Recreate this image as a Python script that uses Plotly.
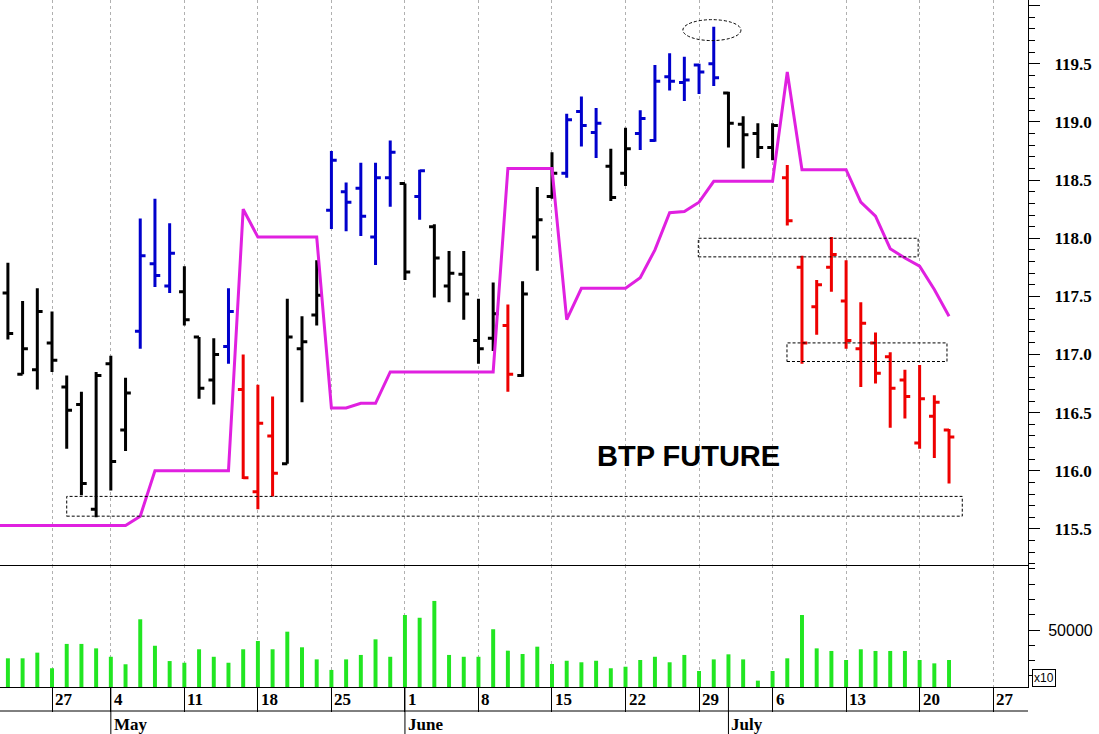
import pandas as pd
import plotly.graph_objects as go

# ---------------- calendar (trading days, 1 May closed) ----------------
calendar = pd.bdate_range("2009-04-21", "2009-07-31")
calendar = calendar[calendar != pd.Timestamp("2009-05-01")]
first_bar = 1                          # OHLC / volume start 22 Apr 2009
n_bars = 65                            # 22 Apr .. 22 Jul 2009

# ---------------- data ----------------
opens = [117.53, 116.83, 116.87, 117.10, 116.72, 116.57, 115.67, 116.92, 116.35,
         117.20, 117.78, 117.59, 117.54, 117.15, 116.78, 117.07, 116.70, 115.82,
         116.30, 116.06, 117.05, 117.34, 118.24, 118.40, 118.43, 118.01, 118.52,
         118.47, 118.36, 118.10, 117.59, 117.69, 117.12, 117.14, 117.25, 116.82,
         118.01, 118.36, 118.56, 119.09, 118.91, 118.62, 118.56, 118.90, 118.84,
         119.39, 119.34, 119.49, 119.50, 119.25, 118.98, 118.90, 118.78, 118.52,
         117.75, 117.41, 117.75, 117.46, 117.05, 117.10, 116.98, 116.78, 116.24,
         116.47, 116.35]
highs = [117.79, 117.46, 117.57, 117.37, 116.82, 116.68, 116.85, 116.99, 116.80,
         118.17, 118.34, 118.13, 117.76, 117.15, 117.14, 117.57, 117.00, 116.74,
         116.64, 117.48, 117.33, 117.81, 118.75, 118.48, 118.65, 118.65, 118.84,
         118.47, 118.59, 118.12, 117.89, 117.89, 117.48, 117.62, 117.43, 117.63,
         118.44, 118.74, 119.07, 119.22, 119.12, 118.77, 118.95, 119.10, 119.49,
         119.59, 119.56, 119.50, 119.82, 119.26, 119.05, 118.99, 118.99, 118.63,
         117.85, 117.64, 118.01, 117.81, 117.45, 117.19, 117.02, 116.87, 116.91,
         116.65, 116.36]
lows = [117.13, 116.83, 116.70, 116.85, 116.19, 115.79, 115.60, 115.83, 116.17,
        117.05, 117.58, 117.53, 117.25, 116.62, 116.57, 116.92, 115.93, 115.67,
        115.78, 116.06, 116.59, 117.25, 118.08, 118.06, 118.02, 117.77, 118.27,
        117.64, 118.16, 117.49, 117.45, 117.30, 116.92, 117.03, 116.68, 116.81,
        117.72, 118.34, 118.52, 118.79, 118.69, 118.32, 118.45, 118.76, 118.83,
        119.27, 119.18, 119.24, 119.31, 118.78, 118.60, 118.69, 118.67, 118.11,
        116.92, 117.17, 117.54, 117.05, 116.72, 116.75, 116.37, 116.45, 116.19,
        116.11, 115.89]
closes = [117.18, 117.05, 117.37, 116.95, 116.52, 115.89, 116.82, 116.08, 116.67,
          117.85, 117.68, 117.87, 117.30, 116.71, 117.00, 117.37, 115.94, 116.41,
          115.98, 117.15, 117.11, 117.51, 118.67, 118.31, 118.19, 118.52, 118.74,
          117.71, 118.58, 117.83, 117.70, 117.52, 117.05, 117.35, 116.83, 117.52,
          118.16, 118.56, 119.02, 118.97, 118.99, 118.35, 118.77, 119.03, 119.35,
          119.35, 119.36, 119.43, 119.38, 118.99, 118.89, 118.78, 118.97, 118.15,
          117.10, 117.60, 117.86, 117.12, 117.27, 116.84, 116.71, 116.64, 116.62,
          116.59, 116.29]
# bar colour signal: n = neutral (black), b = bullish (blue), r = bearish (red)
signal = (["n"] * 9 + ["b"] * 3 + ["n"] * 3 + ["b"] + ["r"] * 3 + ["n"] * 3 +
          ["b"] * 5 + ["n"] + ["b"] + ["n"] * 5 + ["r"] + ["n"] * 3 + ["b"] * 3 +
          ["n"] * 2 + ["b"] * 6 + ["n"] * 4 + ["r"] * 12)
# stop line starts one session earlier (21 Apr)
stop_line = ([115.53] * 10 + [115.61] + [116.00] * 6 + [118.25] + [118.01] * 5 +
             [116.54, 116.54, 116.58, 116.58] + [116.85] * 8 + [118.60] * 4 +
             [117.30] + [117.57] * 4 + [117.66, 117.90, 118.22, 118.23, 118.31] +
             [118.49] * 5 + [119.43] + [118.59] * 4 +
             [118.31, 118.19, 117.91, 117.83, 117.76, 117.56, 117.33])
volume = [31500, 31500, 35200, 25000, 40900, 40900, 38000, 32500, 27600, 57000,
          39700, 29700, 28600, 37400, 32500, 28600, 37400, 42800, 37400, 48900,
          38700, 30800, 23900, 30800, 33700, 43900, 32500, 59800, 58000, 69000,
          33700, 32500, 32500, 50500, 36500, 34300, 39100, 27800, 29900, 28900,
          29900, 25000, 26000, 30400, 32500, 28900, 33700, 23200, 30800, 34100,
          30800, 16900, 23200, 31500, 59800, 38000, 36300, 30400, 37400, 36300,
          36300, 36300, 30400, 28200, 30400]

# annotation boxes (trading-day position, price)
box_x0 = [5.0, 47.95, 53.98]
box_x1 = [65.9, 62.9, 64.86]
box_y0 = [115.61, 117.84, 116.94]
box_y1 = [115.78, 118.00, 117.10]
ellipse_x = [46.9, 50.85]
ellipse_y = [119.70, 119.88]
title_pos = (47.27, 116.13)

month_names = {5: "May", 6: "June", 7: "July"}

# ---------------- derived positions ----------------
bar_pos = list(range(first_bar, first_bar + n_bars))
stop_pos = list(range(len(stop_line)))
monday_pos = [i for i, d in enumerate(calendar) if d.weekday() == 0 and i > 0]
monday_lbl = [str(calendar[i].day) for i in monday_pos]
month_pos, month_lbl = [], []
for i, d in enumerate(calendar):
    if d.month in month_names and i > 0 and calendar[i - 1].month != d.month:
        month_pos.append(i)
        month_lbl.append(month_names[d.month])

colors = {"n": "#000000", "b": "#0000CC", "r": "#EE0000"}

fig = go.Figure()

# volume
fig.add_trace(go.Bar(x=bar_pos, y=volume, width=0.27, marker_color="#22E622",
                     marker_line_width=0, xaxis="x", yaxis="y2", hoverinfo="skip"))

# stop line
fig.add_trace(go.Scatter(x=stop_pos, y=stop_line, mode="lines",
                         line=dict(color="#E020E0", width=3),
                         xaxis="x2", yaxis="y", hoverinfo="skip"))

# ohlc bars by colour
for key, col in colors.items():
    idx = [k for k in range(n_bars) if signal[k] == key]
    fig.add_trace(go.Ohlc(
        x=[bar_pos[k] for k in idx],
        open=[opens[k] for k in idx], high=[highs[k] for k in idx],
        low=[lows[k] for k in idx], close=[closes[k] for k in idx],
        increasing=dict(line=dict(color=col, width=3)),
        decreasing=dict(line=dict(color=col, width=3)),
        tickwidth=0.36, xaxis="x2", yaxis="y", hoverinfo="skip"))

# ---------------- layout ----------------
plot_h = 687.0
vol_frac = 122.0 / plot_h
xr = [0.463, 70.37]
serif_bold = dict(family="Liberation Serif", size=17, color="black", weight="bold")
grid = dict(showgrid=True, gridcolor="#b0b0b0", gridwidth=1, griddash="3px,3px")

fig.update_layout(
    template="none",
    width=1099, height=734,
    margin=dict(l=0, r=71, t=0, b=47, pad=0),
    paper_bgcolor="white", plot_bgcolor="white",
    showlegend=False,
    xaxis=dict(domain=[0, 1], anchor="y2", range=xr, tickmode="array",
               tickvals=monday_pos, ticks="outside", ticklen=24, tickwidth=1,
               tickcolor="black", showticklabels=False, showline=True,
               linecolor="black", linewidth=1, zeroline=False, automargin=False,
               rangeslider=dict(visible=False), **grid),
    xaxis2=dict(domain=[0, 1], anchor="y", matches="x", range=xr, tickmode="array",
                tickvals=monday_pos, ticks="", showticklabels=False, showline=True,
                linecolor="black", linewidth=1, zeroline=False, automargin=False,
                rangeslider=dict(visible=False), **grid),
    yaxis=dict(domain=[vol_frac, 1], anchor="x2", side="right",
               range=[115.19, 120.049], tick0=115.5, dtick=0.5, tickformat=".1f",
               ticks="outside", ticklen=11, tickwidth=1, tickcolor="black",
               ticklabelstandoff=11, tickfont=serif_bold,
               minor=dict(tick0=115.5, dtick=0.1, ticks="outside", ticklen=6,
                          tickwidth=1, tickcolor="black", showgrid=False),
               showline=True, linecolor="black", linewidth=1, showgrid=False,
               zeroline=False, automargin=False),
    yaxis2=dict(domain=[0, vol_frac], anchor="x", side="right",
                range=[12745, 92484], tickmode="array", tickvals=[50000],
                ticktext=["50000"], ticks="outside", ticklen=11, tickwidth=1,
                tickcolor="black", ticklabelstandoff=5,
                tickfont=dict(family="Liberation Sans", size=16, color="black"),
                minor=dict(tick0=0, dtick=10000, ticks="outside", ticklen=6,
                           tickwidth=1, tickcolor="black", showgrid=False),
                showline=True, linecolor="black", linewidth=1, showgrid=False,
                zeroline=False, automargin=False),
)

shapes = []
# row separator under day numbers
shapes.append(dict(type="line", xref="paper", yref="paper", x0=0, x1=1,
                   y0=-24 / plot_h, y1=-24 / plot_h, line=dict(color="black", width=1)))
# month dividers
for p in month_pos:
    shapes.append(dict(type="line", xref="x", yref="paper", x0=p, x1=p,
                       y0=0, y1=-47 / plot_h, line=dict(color="black", width=1)))
# dotted boxes
for a, b, c, d in zip(box_x0, box_x1, box_y0, box_y1):
    shapes.append(dict(type="rect", xref="x2", yref="y", x0=a, x1=b, y0=c, y1=d,
                       line=dict(color="black", width=1, dash="3px,2px")))
shapes.append(dict(type="circle", xref="x2", yref="y", x0=ellipse_x[0], x1=ellipse_x[1],
                   y0=ellipse_y[0], y1=ellipse_y[1],
                   line=dict(color="black", width=1, dash="3px,2px")))
fig.update_layout(shapes=shapes)

ann = []
for p, t in zip(monday_pos, monday_lbl):
    ann.append(dict(x=p, y=-12.7 / plot_h, xref="x", yref="paper", text=t,
                    showarrow=False, xanchor="left", yanchor="middle", xshift=1,
                    font=serif_bold))
for p, t in zip(month_pos, month_lbl):
    ann.append(dict(x=p, y=-37 / plot_h, xref="x", yref="paper", text=t,
                    showarrow=False, xanchor="left", yanchor="middle", xshift=1,
                    font=serif_bold))
ann.append(dict(x=title_pos[0], y=title_pos[1], xref="x2", yref="y", text="BTP FUTURE",
                showarrow=False, xanchor="center", yanchor="middle",
                font=dict(family="Liberation Sans", size=29, color="black", weight="bold")))
ann.append(dict(x=1.0036, y=0, xref="paper", yref="paper", text="x10", showarrow=False,
                xanchor="left", yanchor="bottom", bordercolor="black", borderwidth=1,
                borderpad=1, bgcolor="white",
                font=dict(family="Liberation Sans", size=12, color="black")))
fig.update_layout(annotations=ann)

fig.write_html("out.html",
               config={"displayModeBar": False},
               post_script="document.body.style.margin='0';"
                           "document.body.style.overflow='hidden';")
